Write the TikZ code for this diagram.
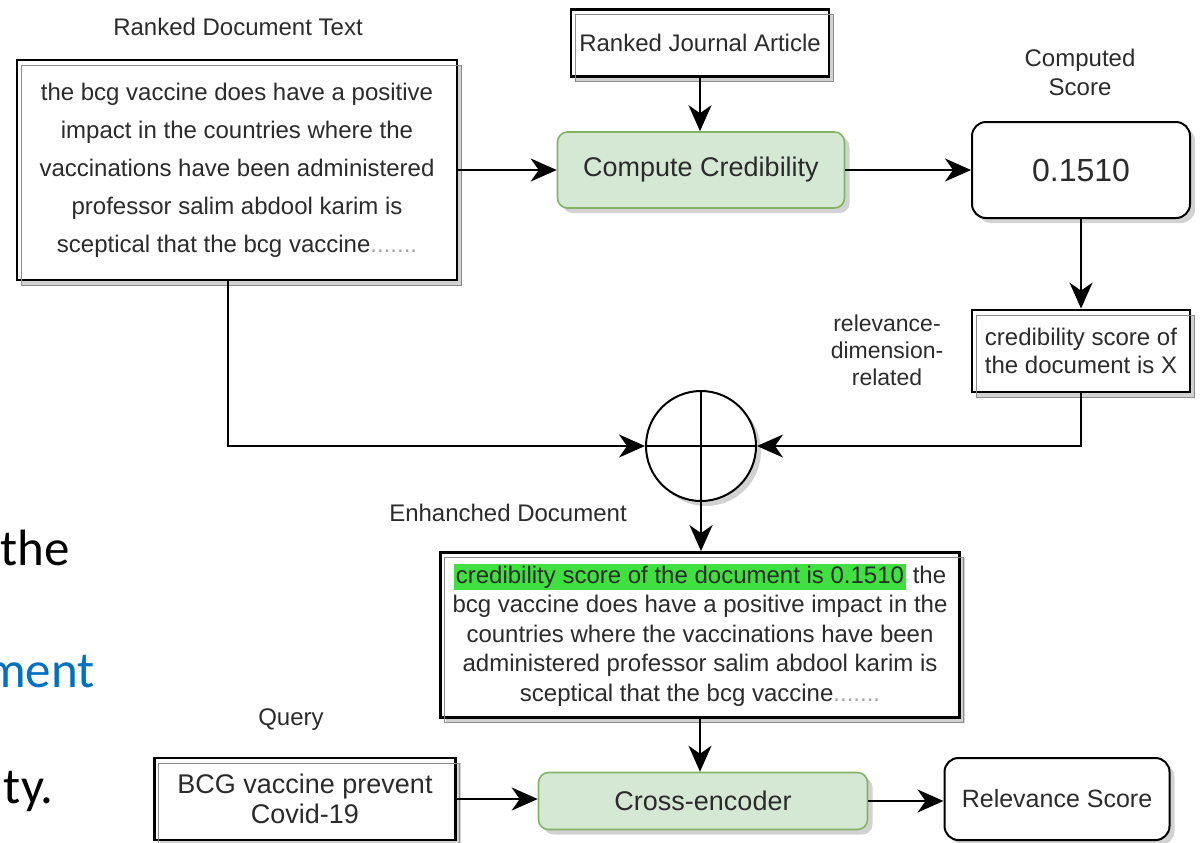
\documentclass[tikz,border=0pt]{standalone}
\usepackage{fontspec}
\setmainfont{Liberation Sans}
\newfontfamily\slidefont{Carlito}
\usepackage{xcolor}
\usetikzlibrary{arrows.meta, positioning, shadows}

\definecolor{boxgreen}{HTML}{D5E8D4}
\definecolor{edgegreen}{HTML}{82B366}
\definecolor{markgreen}{HTML}{3FE03F}
\definecolor{slideblue}{HTML}{0070C0}
\definecolor{inkgray}{HTML}{2B2B2B}
\setlength{\fboxsep}{1pt}

\tikzstyle{arrow} = [line width=1pt,-{Stealth[length=13pt,width=11.5pt,inset=4pt]}]
\tikzstyle{softshadow} = [drop shadow={shadow xshift=2.5pt, shadow yshift=-2.5pt, fill=black!25, opacity=0.7}]
\tikzstyle{sketchbox} = [draw=black, line width=1.4pt, fill=white, text=inkgray, align=center, inner sep=2pt, softshadow,
  postaction={draw=black!45, line width=0.5pt, transform canvas={shift={(2pt,-2.5pt)}}}]
\tikzstyle{greenbox} = [draw=edgegreen, line width=0.8pt, fill=boxgreen, rounded corners=5pt, text=inkgray, softshadow]
\tikzstyle{roundbox} = [draw=black, line width=1pt, fill=white, rounded corners=7pt, text=inkgray, align=center, softshadow]
\tikzstyle{tag} = [text=inkgray, align=center]
\tikzstyle{slidetext} = [anchor=base east, inner sep=0pt, font=\slidefont\fontsize{25.5}{30}\selectfont]

\begin{document}
\begin{tikzpicture}[x=0.5pt, y=-0.5pt]
\useasboundingbox (0,0) rectangle (1202,842);
\clip (0,0) rectangle (1202,842);

% Slide text cut at the left edge
\node[slidetext] (slidethe) at (70,565) {the};
\node[slidetext, text=slideblue] (slidement) at (95,687) {ment};
\node[slidetext] (slidety) at (54,803) {ty.};

% Ranked document
\node[tag, font=\fontsize{12}{14}\selectfont] (doctitle) at (238,27) {Ranked Document Text};
\node[sketchbox, minimum width=220pt, minimum height=110pt, font=\fontsize{12}{19}\selectfont] (doc) at (237,170)
  {the bcg vaccine does have a positive\\impact in the countries where the\\vaccinations have been administered\\professor salim abdool karim is\\sceptical that the bcg vaccine\textcolor{black!35}{.......}};

% Credibility
\node[sketchbox, minimum width=129pt, minimum height=33.5pt, font=\fontsize{12}{14}\selectfont] (journal) at (700,43) {Ranked Journal Article};
\node[greenbox, minimum width=143.5pt, minimum height=38pt, font=\fontsize{13.5}{16}\selectfont] (cc) at (701,170) {Compute Credibility};

% Score
\node[tag, font=\fontsize{12}{14.5}\selectfont] (scoretitle) at (1080,72) {Computed\\Score};
\node[roundbox, minimum width=109pt, minimum height=48pt, font=\fontsize{16}{19}\selectfont] (score) at (1081,170) {0.1510};
\node[sketchbox, minimum width=109pt, minimum height=41pt, font=\fontsize{12}{14}\selectfont] (xbox) at (1081,351) {credibility score of\\the document is X};
\node[tag, font=\fontsize{11.5}{13.5}\selectfont] (reltitle) at (887,350) {relevance-\\dimension-\\related};

% Sum
\node[draw, circle, line width=1pt, minimum size=55pt, fill=white, softshadow,
  path picture={\draw[line width=1pt] (path picture bounding box.north) -- (path picture bounding box.south)
    (path picture bounding box.west) -- (path picture bounding box.east);}] (sum) at (701,446) {};

% Enhanced document
\node[tag, font=\fontsize{12}{14}\selectfont] (enhtitle) at (508,513) {Enhanched Document};
\node[sketchbox, minimum width=259.5pt, minimum height=82.5pt, font=\fontsize{12}{14.75}\selectfont] (enh) at (700,635)
  {\colorbox{markgreen}{credibility score of the document is 0.1510} the\\bcg vaccine does have a positive impact in the\\countries where the vaccinations have been\\administered professor salim abdool karim is\\sceptical that the bcg vaccine\textcolor{black!35}{.......}};

% Query and ranking
\node[tag, font=\fontsize{12}{14}\selectfont] (querytitle) at (291,720) {Query};
\node[sketchbox, minimum width=150.5pt, minimum height=41pt, font=\fontsize{13.5}{15}\selectfont] (query) at (305,799) {BCG vaccine prevent\\Covid-19};
\node[greenbox, minimum width=164.5pt, minimum height=28.5pt, font=\fontsize{13.5}{16}\selectfont] (ce) at (703,801) {Cross-encoder};
\node[roundbox, minimum width=112.5pt, minimum height=41pt, font=\fontsize{12.5}{15}\selectfont] (rel) at (1057,799) {Relevance Score};

% Arrows
\draw[arrow] (doc.east) -- (cc.west);
\draw[arrow] (journal.south) -- (journal.south |- cc.north);
\draw[arrow] (cc.east) -- (score.west);
\draw[arrow] (score.south) -- (xbox.north);
\draw[arrow] ([xshift=-4.5pt]doc.south) |- (sum.west);
\draw[arrow] (xbox.south) |- (sum.east);
\draw[arrow] (sum.south) -- (sum.south |- enh.north);
\draw[arrow] (enh.south) -- (enh.south |- ce.north);
\draw[arrow] (query.east) -- (query.east -| ce.west);
\draw[arrow] (ce.east) -- (ce.east -| rel.west);
\end{tikzpicture}
\end{document}
